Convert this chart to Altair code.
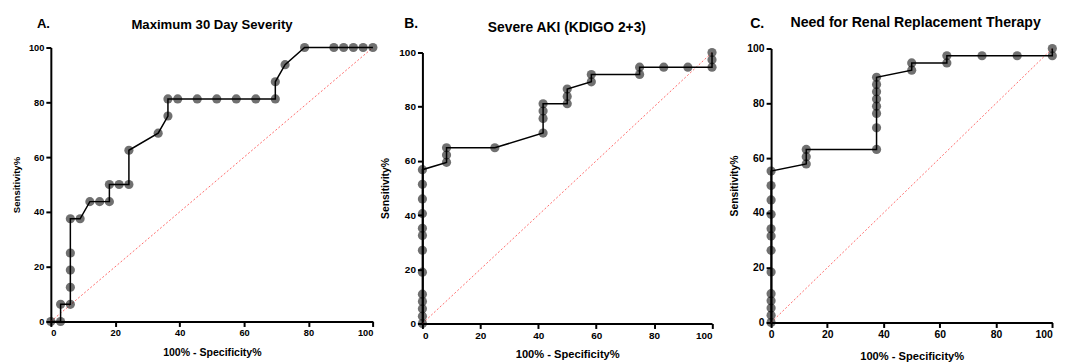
import altair as alt
import pandas as pd

# ---------------- data ----------------
A_fpr = [0, 3.03, 3.03, 6.06, 6.06, 6.06, 6.06, 6.06, 9.09, 12.12, 15.15, 18.18, 18.18,
         21.21, 24.24, 24.24, 33.33, 36.36, 36.36, 39.39, 45.45, 51.52, 57.58, 63.64,
         69.70, 69.70, 72.73, 78.79, 87.88, 90.91, 93.94, 96.97, 100]
A_sens = [0, 0, 6.25, 6.25, 12.5, 18.75, 25, 37.5, 37.5, 43.75, 43.75, 43.75, 50,
          50, 50, 62.5, 68.75, 75, 81.25, 81.25, 81.25, 81.25, 81.25, 81.25,
          81.25, 87.5, 93.75, 100, 100, 100, 100, 100, 100]

B_fpr = [0] * 13 + [8.33, 8.33, 8.33, 25, 41.67, 41.67, 41.67, 41.67, 50, 50, 50,
                    58.33, 58.33, 75, 75, 83.33, 91.67, 100, 100, 100]
B_sens = [0, 2.7, 5.41, 8.11, 10.81, 18.92, 27.03, 32.43, 35.14, 40.54, 45.95, 51.35, 56.76,
          59.46, 62.16, 64.86, 64.86, 70.27, 75.68, 78.38, 81.08, 81.08, 83.78, 86.49,
          89.19, 91.89, 91.89, 94.59, 94.59, 94.59, 94.59, 97.3, 100]

C_fpr = [0] * 13 + [12.5] * 3 + [37.5] * 8 + [50, 50, 62.5, 62.5, 75, 87.5, 100, 100]
C_sens = [0, 2.63, 5.26, 7.89, 10.53, 18.42, 26.32, 31.58, 34.21, 39.47, 44.74, 50, 55.26,
          57.89, 60.53, 63.16, 63.16, 71.05, 76.32, 78.95, 81.58, 84.21, 86.84, 89.47,
          92.11, 94.74, 94.74, 97.37, 97.37, 97.37, 97.37, 100]

letters = ["A.", "B.", "C."]
titles = ["Maximum 30 Day Severity", "Severe AKI (KDIGO 2+3)", "Need for Renal Replacement Therapy"]
tick_values = [0, 20, 40, 60, 80, 100]
diag = [0, 100]
x_title = "100% - Specificity%"
y_title = "Sensitivity%"

FONT = "Liberation Sans"

# ---------------- layout (pixels) ----------------
layouts = [
    dict(gw=362.6, xr=323.3, gh=275, yr=(275, 0), title_fs=13.2, lab_fs=9.3, at_fs=10.6,
         yt_fs=9.6, let_x=-14, let_y=-24, tit_x=161.8, tit_y=-22.2, xt_y=30.8, yt_x=-34.5,
         flush_last=False),
    dict(gw=339.4, xr=290.7, gh=277, yr=(277, 5), title_fs=13.9, lab_fs=10, at_fs=11.2,
         yt_fs=10.4, let_x=-18.3, let_y=-23.4, tit_x=145, tit_y=-20, xt_y=31.2, yt_x=-37.3,
         flush_last=False),
    dict(gw=282.3, xr=282.3, gh=276, yr=(276, 1), title_fs=14.2, lab_fs=10.4, at_fs=11.2,
         yt_fs=10.4, let_x=-21, let_y=-23.9, tit_x=145.1, tit_y=-24.7, xt_y=34.3, yt_x=-37.2,
         flush_last=True),
]


def panel(fpr, sens, letter, title, L, pin=False):
    df = pd.DataFrame({"x": fpr, "y": sens, "i": list(range(len(fpr)))})
    ddf = pd.DataFrame({"x": diag, "y": diag})
    xaxis_kw = dict(values=tick_values, title=x_title, labelAngle=0,
                    labelFontSize=L["lab_fs"], titleFontSize=L["at_fs"],
                    titleX=L["xr"] / 2, titleY=L["xt_y"], titleBaseline="middle",
                    titleAlign="center")
    if L["flush_last"]:
        xaxis_kw["labelAlign"] = {"condition": {"test": "datum.value >= 100", "value": "right"},
                                  "value": "center"}
    xenc = alt.X("x:Q",
                 scale=alt.Scale(domain=[0, 100], range=[0, L["xr"]], nice=False, zero=False),
                 axis=alt.Axis(**xaxis_kw))
    yenc = alt.Y("y:Q",
                 scale=alt.Scale(domain=[0, 100], range=list(L["yr"]), nice=False, zero=False),
                 axis=alt.Axis(values=tick_values, title=y_title,
                               labelFontSize=L["lab_fs"], titleFontSize=L["yt_fs"],
                               titleX=L["yt_x"], titleY=(L["yr"][0] + L["yr"][1]) / 2,
                               titleBaseline="middle", titleAlign="center", titleAngle=270))

    diag_l = alt.Chart(ddf).mark_line(color="#ff5c5c", strokeWidth=1, strokeDash=[2, 2],
                                      opacity=0.9).encode(x=xenc, y=yenc)
    pts = alt.Chart(df).mark_circle(size=85, color="#000000", opacity=0.56).encode(x=xenc, y=yenc)
    line = alt.Chart(df).mark_line(color="#000000", strokeWidth=1.5).encode(
        x=xenc, y=yenc, order="i:Q")
    let = alt.Chart(pd.DataFrame({"t": [letter]})).mark_text(
        align="left", baseline="middle", font=FONT, fontWeight="bold",
        fontSize=L["title_fs"], color="black").encode(
        text="t:N", x=alt.value(L["let_x"]), y=alt.value(L["let_y"]))
    tit = alt.Chart(pd.DataFrame({"t": [title]})).mark_text(
        align="center", baseline="middle", font=FONT, fontWeight="bold",
        fontSize=L["title_fs"], color="black").encode(
        text="t:N", x=alt.value(L["tit_x"]), y=alt.value(L["tit_y"]))
    layers = [diag_l, pts, line, let, tit]
    if pin:
        pinl = alt.Chart(pd.DataFrame({"p": [0]})).mark_rule(strokeOpacity=0).encode(
            x=alt.value(-42.7), y=alt.value(-38.7), y2=alt.value(-38.7))
        layers.append(pinl)
    return alt.layer(*layers).properties(width=L["gw"], height=L["gh"])


pa = panel(A_fpr, A_sens, letters[0], titles[0], layouts[0], pin=True)
pb = panel(B_fpr, B_sens, letters[1], titles[1], layouts[1])
pc = panel(C_fpr, C_sens, letters[2], titles[2], layouts[2])

chart = alt.hconcat(pa, pb, pc, spacing=10, bounds="flush").properties(
    padding=0
).configure_view(stroke=None).configure_axis(
    grid=False, domainColor="black", domainWidth=2, tickColor="black", tickWidth=2,
    tickSize=5, labelFont=FONT, labelFontWeight="bold", labelColor="black",
    labelPadding=2, titleFont=FONT, titleFontWeight="bold", titleColor="black",
)

chart.save("out.html", embed_options={"renderer": "svg", "actions": False})
